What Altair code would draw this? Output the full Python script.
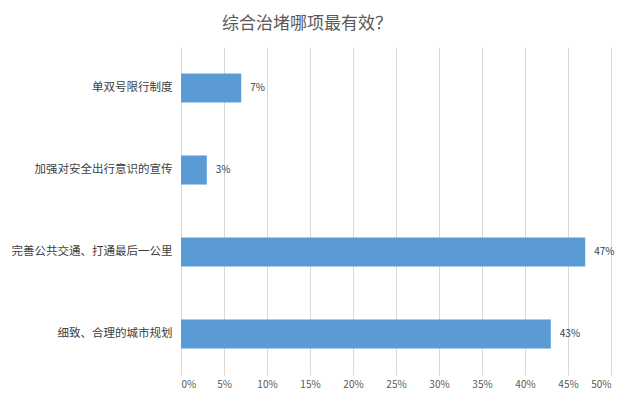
import altair as alt
import pandas as pd

FONT = "Noto Sans CJK SC"

measures = [
    "单双号限行制度",
    "加强对安全出行意识的宣传",
    "完善公共交通、打通最后一公里",
    "细致、合理的城市规划",
]
shares = [0.07, 0.03, 0.47, 0.43]

df = pd.DataFrame({"measure": measures, "share": shares})

base = alt.Chart(df).encode(
    y=alt.Y(
        "measure:N",
        sort=measures,
        title=None,
        scale=alt.Scale(paddingInner=0.646, paddingOuter=0.323),
        axis=alt.Axis(
            domain=False,
            ticks=False,
            labelPadding=9,
            labelFont=FONT,
            labelFontSize=11.5,
            labelColor="#404040",
            labelLimit=300,
        ),
    ),
    x=alt.X(
        "share:Q",
        title=None,
        scale=alt.Scale(domain=[0, 0.5], nice=False),
        axis=alt.Axis(
            format=".0%",
            values=[i * 0.05 for i in range(11)],
            domain=False,
            ticks=False,
            grid=True,
            gridColor="#d9d9d9",
            labelPadding=4,
            labelFont=FONT,
            labelFontSize=10,
            labelColor="#595959",
        ),
    ),
)

bars = base.mark_bar(color="#5b9bd5")
labels = base.mark_text(
    align="left", dx=9, font=FONT, fontSize=10, color="#404040"
).encode(text=alt.Text("share:Q", format=".0%"))

chart = (
    (bars + labels)
    .properties(
        width=430,
        height=328,
        autosize=alt.AutoSizeParams(type="none"),
        padding={"left": 173, "top": 39, "right": 9, "bottom": 20},
        title=alt.TitleParams(
            "综合治堵哪项最有效？",
            font=FONT,
            fontSize=17,
            fontWeight="normal",
            color="#595959",
            offset=14,
            dx=-89,
        ),
    )
    .configure_view(stroke=None)
)

chart.save("out.html", embed_options={"renderer": "svg", "actions": False})
